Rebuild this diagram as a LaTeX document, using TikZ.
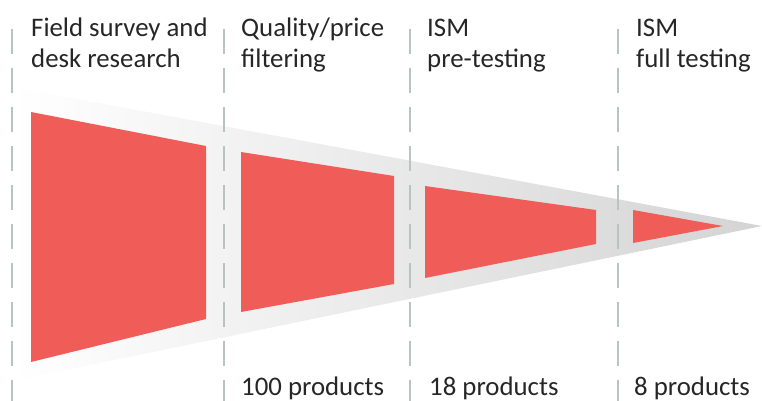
\documentclass[tikz,border=0pt]{standalone}
\usepackage{fontspec}
\setmainfont{Carlito}
\definecolor{funnelred}{HTML}{F05D58}
\definecolor{dashgrey}{HTML}{B9C3C3}
\definecolor{textgrey}{HTML}{262626}
\begin{document}
\begin{tikzpicture}[x=1pt,y=-1pt,
  lbl/.style={anchor=base west,inner sep=0pt,text=textgrey,font=\fontsize{26.8}{31}\selectfont},
  sepline/.style={draw=dashgrey,line width=1.4pt,dash pattern=on 25pt off 14pt},
  stage/.style={fill=funnelred,draw=none}]
\useasboundingbox (0,0) rectangle (762,401);
\clip (0,0) rectangle (762,401);
% grey funnel
\shade[left color=white,right color=black!17] (13,87) -- (762,226) -- (13,381) -- cycle;
% dashed separators
\foreach \xx in {12,224,410,618}
  \draw[sepline] (\xx,29) -- (\xx,410);
% red stages
\fill[stage] (31,112) -- (206,146) -- (206,319) -- (31,362) -- cycle;
\fill[stage] (241,152) -- (394,176) -- (394,284) -- (241,312) -- cycle;
\fill[stage] (425,186) -- (596,210) -- (596,244) -- (425,278) -- cycle;
\fill[stage] (633,210) -- (723,226) -- (633,243) -- cycle;
% headings
\node[lbl] (h1a) at (31,37) {Field survey and};
\node[lbl] (h1b) at (31,68) {desk research};
\node[lbl] (h2a) at (241,37) {Quality/price};
\node[lbl] (h2b) at (241,68) {filtering};
\node[lbl] (h3a) at (427,37) {ISM};
\node[lbl] (h3b) at (427,68) {pre-testing};
\node[lbl] (h4a) at (636,37) {ISM};
\node[lbl] (h4b) at (636,68) {full testing};
% counts
\node[lbl] (c2) at (241,395) {100 products};
\node[lbl] (c3) at (429,395) {18 products};
\node[lbl] (c4) at (634,395) {8 products};
\end{tikzpicture}
\end{document}
